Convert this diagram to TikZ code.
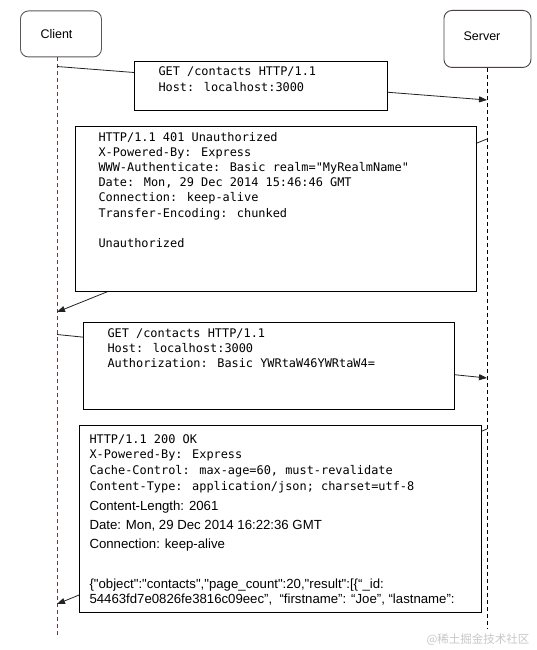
\documentclass[tikz,border=0pt]{standalone}
\usepackage{fontspec}
\usetikzlibrary{arrows.meta}
\newfontfamily\monof{DejaVu Sans Mono}
\newfontfamily\arialf{Liberation Sans}
\newfontfamily\cjkf{Noto Sans CJK SC}
\definecolor{lifered}{HTML}{6B3A3A}
\definecolor{arrowgray}{HTML}{222222}
\definecolor{serverborder}{HTML}{4A4040}
\tikzset{
  actor/.style={draw=#1, line width=0.9pt, rounded corners=8pt, fill=white, inner sep=0pt},
  lifeline/.style={draw=#1, line width=0.9pt, dash pattern=on 4pt off 3pt},
  msg/.style={draw=arrowgray, line width=0.8pt, -{Triangle[length=8pt,width=6pt]}},
  msgbox/.style={draw=black, line width=0.9pt, fill=white, anchor=north west, inner sep=0pt},
  monotext/.style={anchor=north west, inner sep=0pt, align=left,
    font=\monof\fontsize{11.9}{#1}\selectfont},
  sanstext/.style={anchor=north west, inner sep=0pt, align=left,
    font=\arialf\fontsize{13.2}{#1}\selectfont},
}
\newcommand{\topstrut}{\rule{0pt}{10pt}}
\begin{document}
\begin{tikzpicture}[x=1pt,y=-1pt]
\useasboundingbox (0,0) rectangle (536,650);

% actors
\node[actor=black!65, minimum width=81pt, minimum height=46pt, anchor=north west] (client) at (20,10.5) {};
\node[font=\arialf\fontsize{12.5}{14}\selectfont] (clientl) at (56.5,34) {Client};
\node[actor=serverborder, minimum width=87pt, minimum height=57pt, anchor=north west] (server) at (443.5,10) {};
\node[font=\arialf\fontsize{12.5}{14}\selectfont] (serverl) at (482,36.5) {Server};

% lifelines
\coordinate (cbot) at (57,636);
\coordinate (sbot) at (487,628);
\draw[lifeline=lifered] (client.south -| cbot) -- (cbot);
\draw[lifeline=black] (server.south -| sbot) -- (sbot);

% message endpoints
\coordinate (m1s) at (57,66.5);  \coordinate (m1e) at (487,100);
\coordinate (m2s) at (487,139);  \coordinate (m2e) at (57,312);
\coordinate (m3s) at (57,334.5); \coordinate (m3e) at (487,378);
\coordinate (m4s) at (487,429);  \coordinate (m4e) at (57,604);

\draw[msg] (m1s) -- (m1e);
\draw[msg] (m2s) -- (m2e);
\draw[msg] (m3s) -- (m3e);
\draw[msg] (m4s) -- (m4e);

% box 1
\node[msgbox, minimum width=252.5pt, minimum height=49pt] (b1) at (134,61) {};
\node[monotext=15.2] (b1t) at (158.3,65.8) {\topstrut GET /contacts HTTP/1.1\\Host: localhost:3000};

% box 2
\node[msgbox, minimum width=401pt, minimum height=165pt] (b2) at (74.5,126) {};
\node[monotext=15.2] (b2t) at (98.3,130.8) {\topstrut HTTP/1.1 401 Unauthorized\\
X-Powered-By: Express\\
WWW-Authenticate: Basic realm="MyRealmName"\\
Date: Mon, 29 Dec 2014 15:46:46 GMT\\
Connection: keep-alive\\
Transfer-Encoding: chunked\\
\\
Unauthorized};

% box 3
\node[msgbox, minimum width=371pt, minimum height=87pt] (b3) at (83.3,322.3) {};
\node[monotext=15] (b3t) at (107.3,327.3) {\topstrut GET /contacts HTTP/1.1\\
Host: localhost:3000\\
Authorization: Basic YWRtaW46YWRtaW4=};

% box 4
\node[msgbox, minimum width=401.5pt, minimum height=187pt] (b4) at (79.3,425) {};
\node[monotext=15.7] (b4a) at (89.3,433) {\topstrut HTTP/1.1 200 OK\\
X-Powered-By: Express\\
Cache-Control: max-age=60, must-revalidate\\
Content-Type: application/json; charset=utf-8};
\node[sanstext=18.8] (b4b) at (89.3,500.7) {\topstrut Content-Length: 2061\\
Date: Mon, 29 Dec 2014 16:22:36 GMT\\
Connection: keep-alive};
\node[sanstext=15] (b4c) at (89.3,578) {\topstrut \{"object":"contacts","page\_count":20,"result":[\{“\_id:\\
54463fd7e0826fe3816c09eec”,~ “firstname”: “Joe”, “lastname”:};

% watermark
\node[font=\cjkf\fontsize{11.5}{13}\selectfont, text=black!22, anchor=east] (wm) at (533,640) {@稀土掘金技术社区};
\end{tikzpicture}
\end{document}
